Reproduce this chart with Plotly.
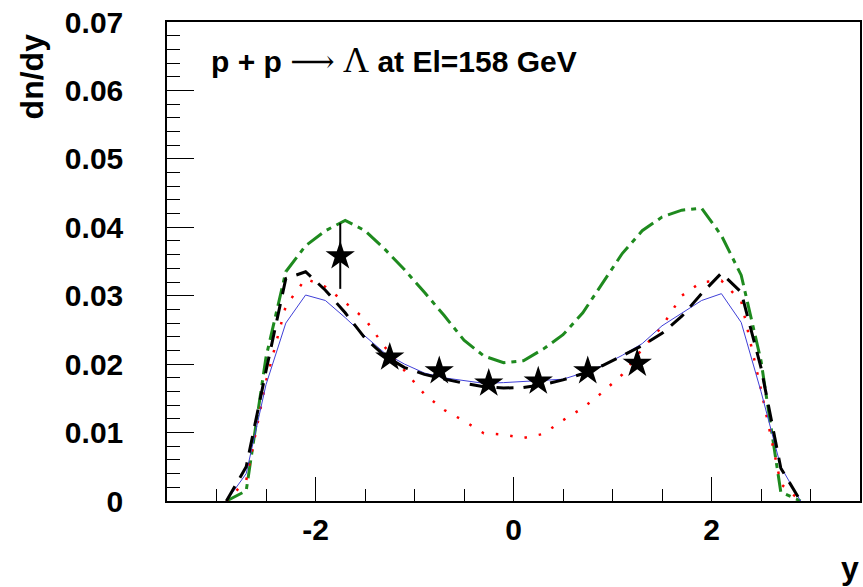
import plotly.graph_objects as go

# ---- data ----
y_grid = [-2.9, -2.7, -2.5, -2.3, -2.1, -1.9, -1.7, -1.5, -1.3, -1.1, -0.9, -0.7, -0.5, -0.3, -0.1,
          0.1, 0.3, 0.5, 0.7, 0.9, 1.1, 1.3, 1.5, 1.7, 1.9, 2.1, 2.3, 2.5, 2.7, 2.9]

green_dashdot = [0.0, 0.0015, 0.021, 0.0335, 0.0373, 0.0395, 0.0410, 0.0395, 0.0368, 0.0338, 0.0305,
                 0.0271, 0.0235, 0.0212, 0.0202, 0.0205, 0.0222, 0.0243, 0.0275, 0.0318, 0.0362,
                 0.0395, 0.0415, 0.0425, 0.0428, 0.0388, 0.0330, 0.0205, 0.0013, 0.0]

black_dashed = [0.0, 0.005, 0.019, 0.0325, 0.0335, 0.0308, 0.0275, 0.0238, 0.0212, 0.0195, 0.0185,
                0.0178, 0.0172, 0.0167, 0.0165, 0.0166, 0.0170, 0.0177, 0.0186, 0.0198, 0.0212,
                0.0227, 0.0245, 0.0270, 0.0303, 0.0333, 0.0305, 0.0195, 0.0048, 0.0]

red_dotted = [0.0, 0.003, 0.0175, 0.0285, 0.0325, 0.0313, 0.0290, 0.0266, 0.0225, 0.0190, 0.0156,
              0.0133, 0.0117, 0.0099, 0.0097, 0.0092, 0.0098, 0.0118, 0.0136, 0.0159, 0.0185,
              0.0222, 0.0255, 0.0300, 0.0320, 0.0322, 0.0292, 0.0163, 0.0025, 0.0]

blue_solid = [0.0, 0.004, 0.017, 0.026, 0.0301, 0.0293, 0.0268, 0.0241, 0.0216, 0.0200, 0.0187,
              0.0180, 0.0176, 0.0172, 0.0173, 0.0175, 0.0176, 0.0178, 0.0187, 0.0198, 0.0213,
              0.0230, 0.0256, 0.0275, 0.0293, 0.0303, 0.0261, 0.0160, 0.0050, 0.0]

data_y = [-1.75, -1.25, -0.75, -0.25, 0.25, 0.75, 1.25]
data_dndy = [0.0358, 0.0210, 0.0190, 0.0172, 0.0175, 0.0190, 0.0201]
data_err = [0.0048, 0.0005, 0.0005, 0.0005, 0.0005, 0.0005, 0.0005]

x_ticks = [-2, 0, 2]
x_ticklabels = ["-2", "0", "2"]
y_ticks = [0, 0.01, 0.02, 0.03, 0.04, 0.05, 0.06, 0.07]
y_ticklabels = ["0", "0.01", "0.02", "0.03", "0.04", "0.05", "0.06", "0.07"]

# ---- figure ----
fig = go.Figure()
fig.add_trace(go.Scatter(x=y_grid, y=green_dashdot, mode="lines",
                         line=dict(color="#1e8a1e", width=3, dash="18px,6px,5px,6px")))
fig.add_trace(go.Scatter(x=y_grid, y=red_dotted, mode="lines",
                         line=dict(color="#ff0000", width=2.5, dash="2.5px,12px")))
fig.add_trace(go.Scatter(x=y_grid, y=blue_solid, mode="lines",
                         line=dict(color="#4040d8", width=1)))
fig.add_trace(go.Scatter(x=y_grid, y=black_dashed, mode="lines",
                         line=dict(color="black", width=3, dash="17px,10px")))
fig.add_trace(go.Scatter(x=data_y, y=data_dndy, mode="markers",
                         marker=dict(symbol="star", size=22, color="black"),
                         error_y=dict(type="data", array=data_err, visible=True,
                                      color="black", thickness=2, width=0)))

W, H = 863, 587
L, R, T, B = 167, 1, 22, 86
pw, ph = W - L - R, H - T - B


def px(x):
    return (x - L) / pw


def py(y):
    return (H - B - y) / ph


tickfont = dict(family="Liberation Sans", size=30, color="black", weight="bold")

title_text = ('p + p <span style="font-family:DejaVu Serif;font-weight:normal;font-size:31px">\u27f6</span>'
              ' <span style="font-family:Liberation Serif;font-weight:normal;font-size:36px">\u039b</span>'
              ' at El=158 GeV')

fig.update_layout(
    width=W, height=H,
    margin=dict(l=L, r=R, t=T, b=B, pad=0),
    paper_bgcolor="white", plot_bgcolor="white",
    showlegend=False,
    xaxis=dict(range=[-3.5, 3.5], tickvals=x_ticks, ticktext=x_ticklabels,
               ticks="inside", ticklen=24,
               tickcolor="black", tickwidth=1, showgrid=False, zeroline=False,
               showline=True, linecolor="black", linewidth=1.5, mirror=True,
               tickfont=tickfont, ticklabelstandoff=1,
               minor=dict(dtick=0.5, tick0=0, ticks="inside", ticklen=12,
                          tickcolor="black", tickwidth=1, showgrid=False)),
    yaxis=dict(range=[0, 0.07], tickvals=y_ticks, ticktext=y_ticklabels,
               ticks="inside", ticklen=27,
               tickcolor="black", tickwidth=1, showgrid=False, zeroline=False,
               showline=True, linecolor="black", linewidth=1.5, mirror=True,
               tickfont=tickfont, ticklabelstandoff=36,
               minor=dict(dtick=0.002, tick0=0, ticks="inside", ticklen=13,
                          tickcolor="black", tickwidth=1, showgrid=False)),
    annotations=[
        dict(xref="paper", yref="paper", x=px(209), y=py(60), xanchor="left", yanchor="middle",
             showarrow=False, text=title_text,
             font=dict(family="Liberation Sans", size=30, color="black", weight="bold")),
        dict(xref="paper", yref="paper", x=px(32), y=py(76), xanchor="center", yanchor="middle",
             showarrow=False, textangle=-90, text="dn/dy",
             font=dict(family="Liberation Sans", size=32, color="black", weight="bold")),
        dict(xref="paper", yref="paper", x=px(863), y=py(568), xanchor="right", yanchor="middle",
             showarrow=False, text="y",
             font=dict(family="Liberation Sans", size=32, color="black", weight="bold")),
    ],
)

fig.write_html("out.html")
